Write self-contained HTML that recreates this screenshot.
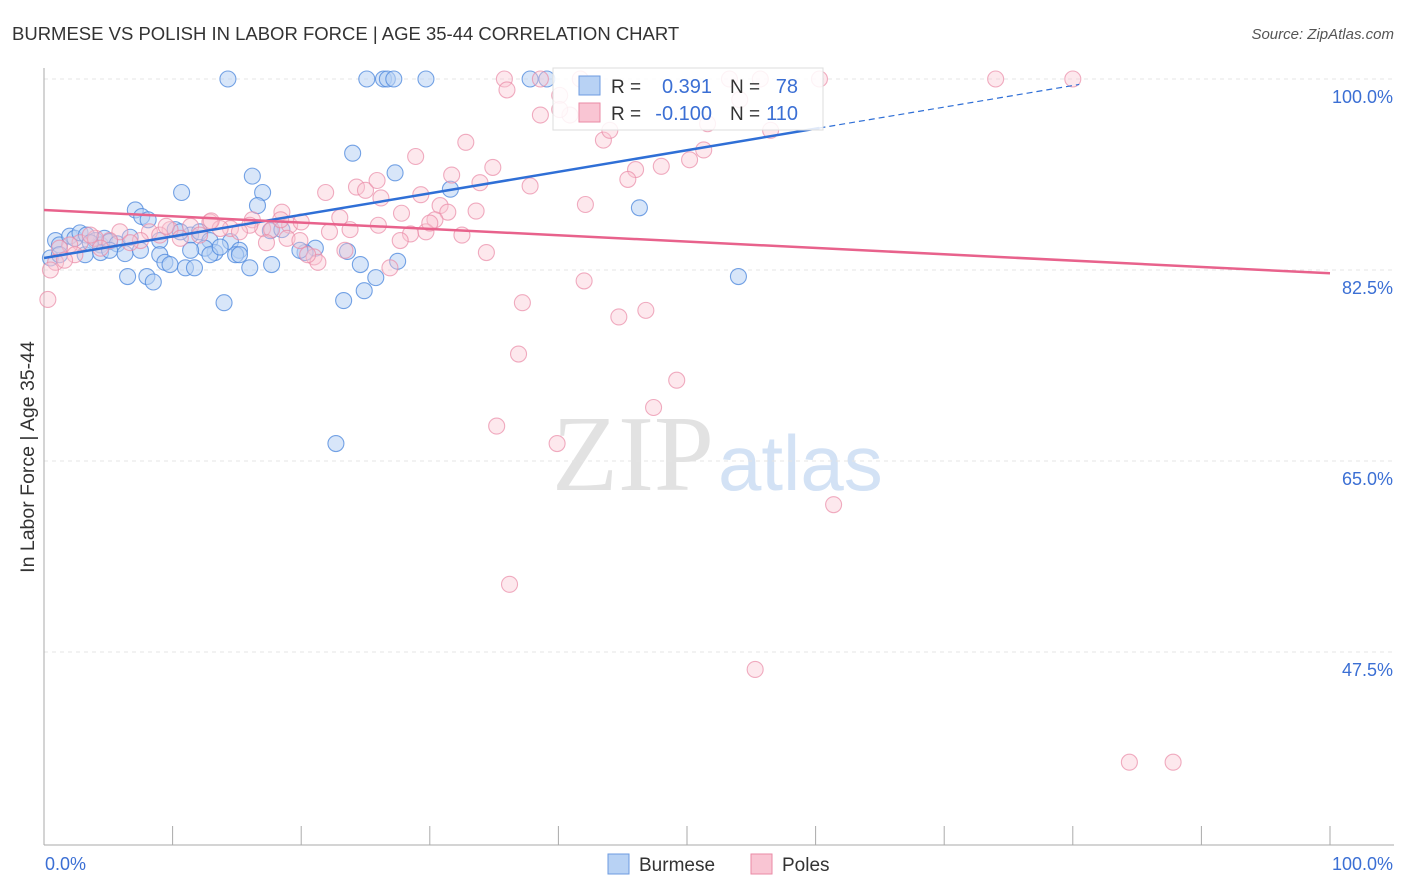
<!DOCTYPE html>
<html><head><meta charset="utf-8">
<style>
body{margin:0;background:#fff;font-family:"Liberation Sans",sans-serif;}
#wrap{position:relative;width:1406px;height:892px;overflow:hidden;}
</style></head>
<body>
<div id="wrap">
<svg id="chart" width="1406" height="892" xmlns="http://www.w3.org/2000/svg">
<text x="12" y="40" font-size="18.5" fill="#333">BURMESE VS POLISH IN LABOR FORCE | AGE 35-44 CORRELATION CHART</text>
<text x="1394" y="39" font-size="15" fill="#555" font-style="italic" text-anchor="end">Source: ZipAtlas.com</text>
<text x="714" y="490" font-size="108" fill="#e2e2e2" font-family="Liberation Serif,serif" text-anchor="end">ZIP</text>
<text x="718" y="490" font-size="78" fill="#d3e2f5">atlas</text>
<text transform="translate(34,457) rotate(-90)" font-size="19.5" fill="#333" text-anchor="middle">In Labor Force | Age 35-44</text>
<g id="grid"></g><g id="pts"></g><g id="lines"></g>
<g>
<rect x="553" y="68" width="270" height="62" fill="#fff" fill-opacity="0.85" stroke="#ddd"/>
<rect x="579" y="76" width="21" height="19" fill="#b8d2f4" stroke="#6d9be0"/>
<rect x="579" y="103" width="21" height="19" fill="#f9c5d3" stroke="#ea8aa6"/>
<text x="611" y="93" font-size="19" fill="#333">R = </text><text x="712" y="93" font-size="20" fill="#3b6fd4" text-anchor="end">0.391</text>
<text x="730" y="93" font-size="19" fill="#333">N = </text><text x="798" y="93" font-size="20" fill="#3b6fd4" text-anchor="end">78</text>
<text x="611" y="120" font-size="19" fill="#333">R = </text><text x="712" y="120" font-size="20" fill="#3b6fd4" text-anchor="end">-0.100</text>
<text x="730" y="120" font-size="19" fill="#333">N = </text><text x="798" y="120" font-size="20" fill="#3b6fd4" text-anchor="end">110</text>
</g>
<g>
<rect x="608" y="854" width="21" height="20" fill="#b8d2f4" stroke="#6d9be0"/>
<text x="639" y="871" font-size="19" fill="#333">Burmese</text>
<rect x="751" y="854" width="21" height="20" fill="#f9c5d3" stroke="#ea8aa6"/>
<text x="782" y="871" font-size="19" fill="#333">Poles</text>
</g>
</svg>
</div>
<script>
const yTicks=[100,82.5,65,47.5];
const yTickLabels=["100.0%","82.5%","65.0%","47.5%"];
const xTickLabels=["0.0%","100.0%"];
const blueX=[14.3,25.1,26.4,26.7,27.2,29.7,37.8,39.1,24.0,27.3,16.2,10.7,17.0,31.6,46.3,16.6,7.1,7.6,8.1,17.6,0.9,1.2,2.0,2.4,2.8,3.3,4.0,4.4,4.7,5.1,5.7,6.3,3.2,4.4,9.0,10.2,11.4,12.1,12.9,14.5,15.2,13.3,12.5,11.4,9.0,9.4,9.8,11.0,11.7,6.5,8.0,8.5,14.9,16.0,17.7,21.1,20.3,23.6,24.6,25.8,24.9,23.3,27.5,14.0,22.7,54.0,0.5,1.2,5.1,7.5,12.9,15.2,19.9,3.6,6.7,10.6,13.7,18.5];
const blueY=[100,100,100,100,100,100,100,100,93.2,91.4,91.1,89.6,89.6,89.9,88.2,88.4,88.0,87.4,87.1,86.1,85.2,84.8,85.6,85.4,85.9,85.7,85.2,84.8,85.4,85.1,84.9,84.0,83.9,84.1,85.2,86.2,85.7,86.0,85.2,85.1,84.3,84.1,84.5,84.3,83.9,83.2,83.0,82.7,82.7,81.9,81.9,81.4,83.9,82.7,83.0,84.5,84.1,84.2,83.0,81.8,80.6,79.7,83.3,79.5,66.6,81.9,83.6,83.9,84.3,84.3,83.9,83.9,84.3,85.0,85.5,86.0,84.6,86.2];
const pinkX=[35.8,38.6,41.7,53.3,55.7,60.3,74.0,80.0,40.1,38.6,40.9,51.6,32.8,43.5,28.9,34.9,31.7,50.2,51.3,46.0,45.4,33.9,37.8,21.9,24.3,25.0,25.9,26.2,29.3,30.8,31.4,33.6,27.8,42.1,30.4,23.0,18.5,16.2,17.0,17.7,19.1,22.2,28.5,29.7,32.5,34.4,23.4,21.0,21.3,26.9,17.3,18.9,16.0,14.5,12.9,11.4,9.8,8.2,7.5,5.9,5.1,4.0,2.8,2.0,1.2,0.9,0.5,0.3,12.1,10.6,9.0,6.7,4.4,37.2,42.0,44.7,46.8,36.9,49.2,47.4,35.2,39.9,61.4,36.2,55.3,84.4,87.8,13.7,15.2,19.9,20.5,3.6,2.4,1.6,18.4,23.8,27.7,40.1,44.0,54.1,56.5,36.0,48.0,30.0,26.0,20.0,13.0,9.5];
const pinkY=[100,100,100,100,100,100,100,100,98.5,96.7,96.7,95.9,94.2,94.4,92.9,91.9,91.2,92.6,93.5,91.7,90.8,90.5,90.2,89.6,90.1,89.8,90.7,89.1,89.4,88.4,87.8,87.9,87.7,88.5,87.1,87.3,87.8,87.1,86.3,86.2,86.6,86.0,85.8,86.0,85.7,84.1,84.3,83.7,83.2,82.7,85.0,85.4,86.6,86.3,86.9,86.5,86.2,86.0,85.2,86.0,85.2,85.4,85.0,84.8,84.5,83.2,82.5,79.8,85.7,85.4,85.7,85.0,84.5,79.5,81.5,78.2,78.8,74.8,72.4,69.9,68.2,66.6,61.0,53.7,45.9,37.4,37.4,86.3,86.0,85.2,83.9,85.7,83.9,83.4,87.1,86.2,85.2,97.2,95.3,98.1,95.3,99.0,92.0,86.8,86.6,86.9,87.0,86.5];
const blueTrend=[83.6,0.1975]; // intercept, slope
const pinkTrend=[88.0,-0.058];
const NS="http://www.w3.org/2000/svg";
const X=v=>44+v*12.86, Y=v=>79+(100-v)*10.914;
function mk(tag,attrs,parent){const e=document.createElementNS(NS,tag);for(const k in attrs)e.setAttribute(k,attrs[k]);parent.appendChild(e);return e;}
const grid=document.getElementById('grid');
yTicks.forEach((t,i)=>{
  const l=mk('line',{x1:44,x2:1394,y1:Y(t),y2:Y(t),stroke:'#e4e4e4','stroke-dasharray':'4,4'},grid);
  
  
  const tx=mk('text',{x:1393,y:Y(t)+24,'font-size':18,fill:'#3b6fd4','text-anchor':'end'},grid);
  tx.textContent=yTickLabels[i];
  
  
});
const ax=mk('line',{x1:44,x2:44,y1:68,y2:845,stroke:'#aaa'},grid);


const bx=mk('line',{x1:44,x2:1394,y1:845,y2:845,stroke:'#aaa'},grid);


for(let i=0;i<=10;i++){const t=mk('line',{x1:X(i*10),x2:X(i*10),y1:826,y2:845,stroke:'#aaa'},grid);
  
  }
[[0,'start',45],[100,'end',1393]].forEach((d,i)=>{const t=mk('text',{x:d[2],y:870,'font-size':18,fill:'#3b6fd4','text-anchor':d[1]},grid);t.textContent=xTickLabels[i];
  
  });
const pts=document.getElementById('pts');
blueX.forEach((v,i)=>{const c=mk('circle',{cx:X(v),cy:Y(blueY[i]),r:8,fill:'#b8d2f4','fill-opacity':0.55,stroke:'#4a86dc','stroke-opacity':0.75,'stroke-width':1.1},pts);
  
  });
pinkX.forEach((v,i)=>{const c=mk('circle',{cx:X(v),cy:Y(pinkY[i]),r:8,fill:'#f9c5d3','fill-opacity':0.4,stroke:'#ea8aa6','stroke-opacity':0.7,'stroke-width':1.1},pts);
  
  });
const lines=document.getElementById('lines');
const bf=x=>blueTrend[0]+blueTrend[1]*x;
const b1=mk('line',{x1:X(0),y1:Y(bf(0)),x2:X(60.3),y2:Y(bf(60.3)),stroke:'#2f6fd6','stroke-width':2.5},lines);


const b2=mk('line',{x1:X(60.3),y1:Y(bf(60.3)),x2:X(80.5),y2:Y(bf(80.5)),stroke:'#2f6fd6','stroke-width':1.2,'stroke-dasharray':'6,4'},lines);


const pf=x=>pinkTrend[0]+pinkTrend[1]*x;
const p1=mk('line',{x1:X(0),y1:Y(pf(0)),x2:X(100),y2:Y(pf(100)),stroke:'#e8628c','stroke-width':2.5},lines);


</script>
</body></html>
